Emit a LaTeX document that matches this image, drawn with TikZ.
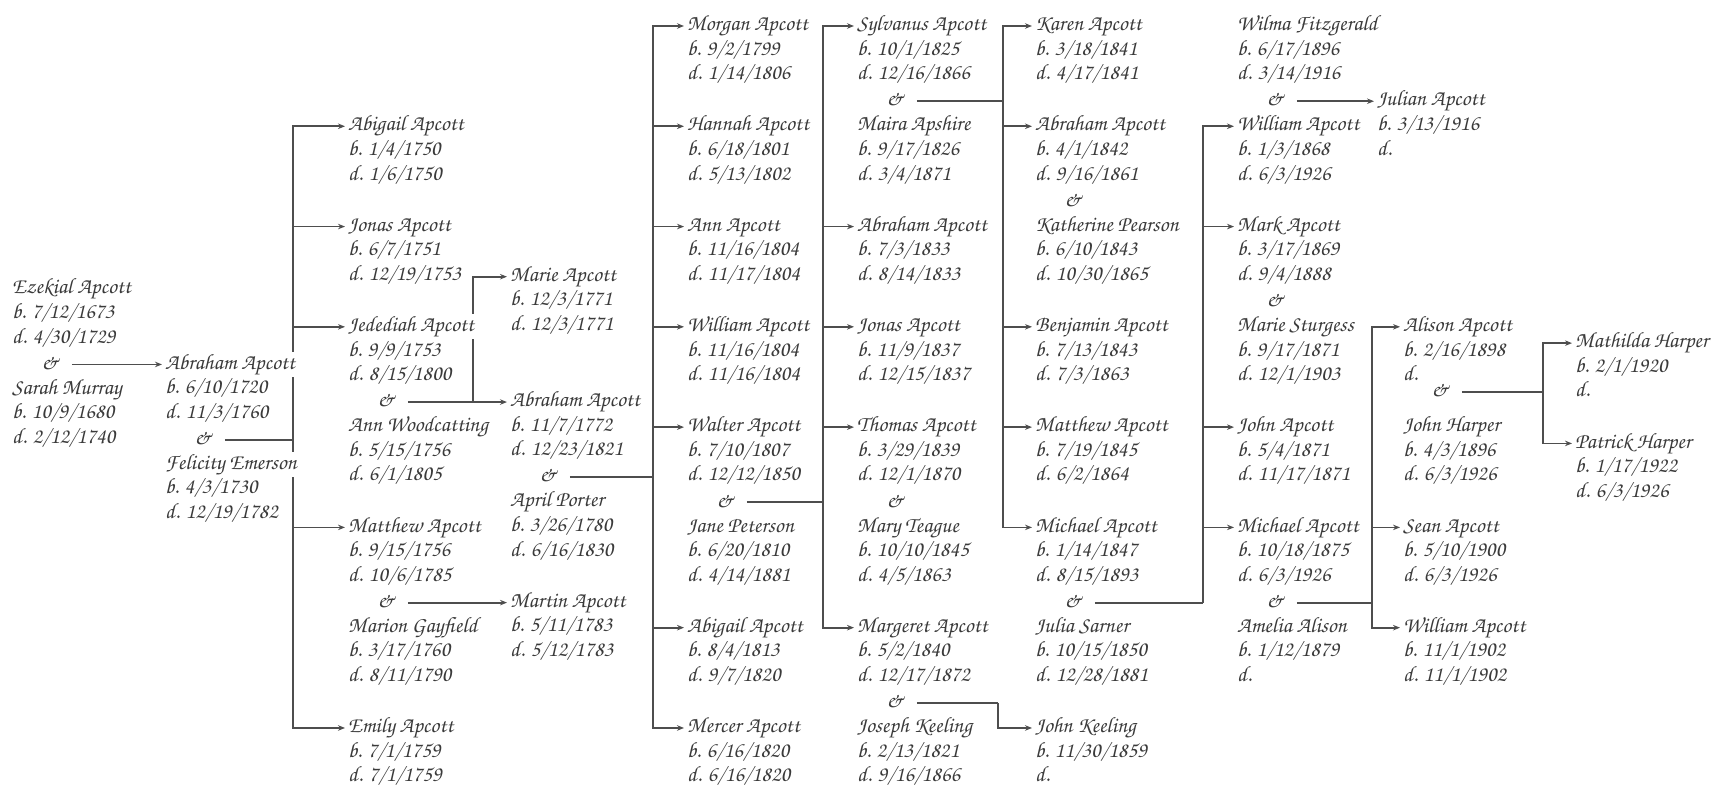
\documentclass[tikz,border=0pt]{standalone}
\usepackage[T1]{fontenc}
\usepackage{graphicx}
\usetikzlibrary{arrows.meta,calc}
\definecolor{txt}{HTML}{3A3A3A}
\definecolor{lnc}{HTML}{4E4E4E}
\pgfdeclarelayer{bg}
\pgfsetlayers{bg,main}
\newcommand\Sx{1}
\newcommand\OffN{12.6}
\newcommand\pfont{\fontencoding{T1}\fontfamily{pzc}\fontseries{mb}\fontshape{it}\fontsize{22}{24.6}\selectfont}
\setlength\fboxsep{0pt}
\newcommand\Ln[1]{\colorbox{white}{\hspace{3pt}\rule[-7.6pt]{0pt}{24.6pt}\scalebox{\Sx}[1]{#1}\hspace{3pt}}}
\newcommand\Pers[6]{\node[pers] (#1) at (#2-3,{26+25.07*(#3)-\OffN}) {\Ln{#4}\\\Ln{b. #5}\\\Ln{d. #6}};}
\newcommand\Amp[3]{\node[amp] (#1) at (#2+38,{26+25.07*(#3)}) {\Ln{\&}};}
\newcommand\Fam[3]{\coordinate (#1) at (#2,0 |- #3); \draw[ln,shorten <=10pt] (#3.east) -- (#1);}
\newcommand\Kid[2]{\draw[arr] (#1) |- ([yshift=-\OffN pt]#2.north west);}
\tikzset{
  pers/.style={anchor=north west, inner sep=0pt, align=left, font=\pfont, text=txt},
  amp/.style={anchor=center, inner sep=0pt, font=\pfont, text=txt},
  ln/.style={draw=lnc, line width=1.8pt},
  arr/.style={ln, -{Stealth[length=7pt,width=5.5pt]}}
}
\begin{document}
\begin{tikzpicture}[x=1pt,y=-1pt]
\useasboundingbox (0,0) rectangle (1723,786);
\begin{pgfonlayer}{bg}
\fill[white] (0,0) rectangle (1723,786);
\end{pgfonlayer}
% column 0
\Pers{ez}{12}{10.5}{Ezekial Apcott}{7/12/1673}{4/30/1729}
\Amp{aez}{12}{13.5}
\Pers{sarah}{12}{14.5}{Sarah Murray}{10/9/1680}{2/12/1740}
% column 1
\Pers{abr}{165}{13.5}{Abraham Apcott}{6/10/1720}{11/3/1760}
\Amp{aabr}{165}{16.5}
\Pers{felicity}{165}{17.5}{Felicity Emerson}{4/3/1730}{12/19/1782}
% column 2
\Pers{abigail}{348}{4}{Abigail Apcott}{1/4/1750}{1/6/1750}
\Pers{jonas}{348}{8}{Jonas Apcott}{6/7/1751}{12/19/1753}
\Pers{jed}{348}{12}{Jedediah Apcott}{9/9/1753}{8/15/1800}
\Amp{ajed}{348}{15}
\Pers{annw}{348}{16}{Ann Woodcatting}{5/15/1756}{6/1/1805}
\Pers{matt}{348}{20}{Matthew Apcott}{9/15/1756}{10/6/1785}
\Amp{amatt}{348}{23}
\Pers{marion}{348}{24}{Marion Gayfield}{3/17/1760}{8/11/1790}
\Pers{emily}{348}{28}{Emily Apcott}{7/1/1759}{7/1/1759}
% column 3
\Pers{marie}{510}{10}{Marie Apcott}{12/3/1771}{12/3/1771}
\Pers{abr2}{510}{15}{Abraham Apcott}{11/7/1772}{12/23/1821}
\Amp{aabr2}{510}{18}
\Pers{april}{510}{19}{April Porter}{3/26/1780}{6/16/1830}
\Pers{martin}{510}{23}{Martin Apcott}{5/11/1783}{5/12/1783}
% column 4
\Pers{morgan}{687}{0}{Morgan Apcott}{9/2/1799}{1/14/1806}
\Pers{hannah}{687}{4}{Hannah Apcott}{6/18/1801}{5/13/1802}
\Pers{ann}{687}{8}{Ann Apcott}{11/16/1804}{11/17/1804}
\Pers{will1}{687}{12}{William Apcott}{11/16/1804}{11/16/1804}
\Pers{walter}{687}{16}{Walter Apcott}{7/10/1807}{12/12/1850}
\Amp{awalter}{687}{19}
\Pers{jane}{687}{20}{Jane Peterson}{6/20/1810}{4/14/1881}
\Pers{abigail2}{687}{24}{Abigail Apcott}{8/4/1813}{9/7/1820}
\Pers{mercer}{687}{28}{Mercer Apcott}{6/16/1820}{6/16/1820}
% column 5
\Pers{sylv}{857}{0}{Sylvanus Apcott}{10/1/1825}{12/16/1866}
\Amp{asylv}{857}{3}
\Pers{maira}{857}{4}{Maira Apshire}{9/17/1826}{3/4/1871}
\Pers{abr3}{857}{8}{Abraham Apcott}{7/3/1833}{8/14/1833}
\Pers{jonas2}{857}{12}{Jonas Apcott}{11/9/1837}{12/15/1837}
\Pers{thomas}{857}{16}{Thomas Apcott}{3/29/1839}{12/1/1870}
\Amp{athomas}{857}{19}
\Pers{mary}{857}{20}{Mary Teague}{10/10/1845}{4/5/1863}
\Pers{marg}{857}{24}{Margeret Apcott}{5/2/1840}{12/17/1872}
\Amp{amarg}{857}{27}
\Pers{joseph}{857}{28}{Joseph Keeling}{2/13/1821}{9/16/1866}
% column 6
\Pers{karen}{1035}{0}{Karen Apcott}{3/18/1841}{4/17/1841}
\Pers{abr4}{1035}{4}{Abraham Apcott}{4/1/1842}{9/16/1861}
\Amp{aabr4}{1035}{7}
\Pers{kath}{1035}{8}{Katherine Pearson}{6/10/1843}{10/30/1865}
\Pers{benj}{1035}{12}{Benjamin Apcott}{7/13/1843}{7/3/1863}
\Pers{matt2}{1035}{16}{Matthew Apcott}{7/19/1845}{6/2/1864}
\Pers{mich}{1035}{20}{Michael Apcott}{1/14/1847}{8/15/1893}
\Amp{amich}{1035}{23}
\Pers{julia}{1035}{24}{Julia Sarner}{10/15/1850}{12/28/1881}
\Pers{johnk}{1035}{28}{John Keeling}{11/30/1859}{}
% column 7
\Pers{wilma}{1237}{0}{Wilma Fitzgerald}{6/17/1896}{3/14/1916}
\Amp{awilma}{1237}{3}
\Pers{will2}{1237}{4}{William Apcott}{1/3/1868}{6/3/1926}
\Pers{mark}{1237}{8}{Mark Apcott}{3/17/1869}{9/4/1888}
\Amp{amark}{1237}{11}
\Pers{maries}{1237}{12}{Marie Sturgess}{9/17/1871}{12/1/1903}
\Pers{john}{1237}{16}{John Apcott}{5/4/1871}{11/17/1871}
\Pers{mich2}{1237}{20}{Michael Apcott}{10/18/1875}{6/3/1926}
\Amp{amich2}{1237}{23}
\Pers{amelia}{1237}{24}{Amelia Alison}{1/12/1879}{}
% column 8
\Pers{julian}{1377}{3}{Julian Apcott}{3/13/1916}{}
\Pers{alison}{1403}{12}{Alison Apcott}{2/16/1898}{}
\Amp{aalison}{1402}{14.6}
\Pers{jharper}{1403}{16}{John Harper}{4/3/1896}{6/3/1926}
\Pers{sean}{1403}{20}{Sean Apcott}{5/10/1900}{6/3/1926}
\Pers{will3}{1403}{24}{William Apcott}{11/1/1902}{11/1/1902}
% column 9
\Pers{math}{1575}{12.65}{Mathilda Harper}{2/1/1920}{}
\Pers{pat}{1575}{16.65}{Patrick Harper}{1/17/1922}{6/3/1926}
% connectors
\begin{pgfonlayer}{bg}
\draw[arr,shorten <=10pt] (aez.east) -- (aez.east -| abr.west);
\draw[arr,shorten <=10pt] (amatt.east) -- (amatt.east -| martin.west);
\draw[arr,shorten <=10pt] (awilma.east) -- (awilma.east -| julian.west);
\Fam{b1}{293}{aabr}
\Kid{b1}{abigail}\Kid{b1}{jonas}\Kid{b1}{jed}\Kid{b1}{matt}\Kid{b1}{emily}
\Fam{b2}{473}{ajed}
\Kid{b2}{marie}\Kid{b2}{abr2}
\Fam{b3}{653}{aabr2}
\Kid{b3}{morgan}\Kid{b3}{hannah}\Kid{b3}{ann}\Kid{b3}{will1}\Kid{b3}{walter}\Kid{b3}{abigail2}\Kid{b3}{mercer}
\Fam{b4}{823}{awalter}
\Kid{b4}{sylv}\Kid{b4}{abr3}\Kid{b4}{jonas2}\Kid{b4}{thomas}\Kid{b4}{marg}
\Fam{b5}{1003}{asylv}
\Kid{b5}{karen}\Kid{b5}{abr4}\Kid{b5}{benj}\Kid{b5}{matt2}\Kid{b5}{mich}
\Fam{b6}{998}{amarg}
\Kid{b6}{johnk}
\Fam{b7}{1203}{amich}
\Kid{b7}{will2}\Kid{b7}{mark}\Kid{b7}{john}\Kid{b7}{mich2}
\Fam{b8}{1372}{amich2}
\Kid{b8}{alison}\Kid{b8}{sean}\Kid{b8}{will3}
\Fam{b9}{1543}{aalison}
\Kid{b9}{math}\Kid{b9}{pat}
\end{pgfonlayer}
\end{tikzpicture}
\end{document}
